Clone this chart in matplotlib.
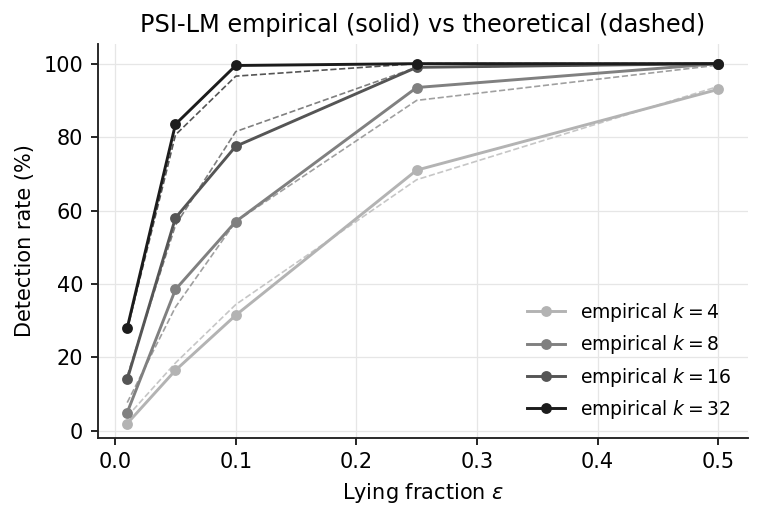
import numpy as np
import matplotlib
matplotlib.use('Agg')
import matplotlib.pyplot as plt

# lying fraction (x)
eps = [0.01, 0.05, 0.1, 0.25, 0.5]
ks = [4, 8, 16, 32]

# empirical detection rate (%)
emp_k4 = [2.0, 16.5, 31.5, 71.0, 93.0]
emp_k8 = [5.0, 38.5, 57.0, 93.5, 100.0]
emp_k16 = [14.0, 58.0, 77.5, 99.0, 100.0]
emp_k32 = [28.0, 83.5, 99.5, 100.0, 100.0]

# theoretical detection rate (%)
theo_k4 = [3.9, 18.5, 34.4, 68.4, 93.8]
theo_k8 = [7.7, 33.7, 57.0, 90.0, 99.6]
theo_k16 = [14.9, 56.0, 81.5, 99.0, 100.0]
theo_k32 = [27.5, 80.6, 96.6, 100.0, 100.0]

colors = ['#b3b3b3', '#808080', '#555555', '#1c1c1c']

emp = [emp_k4, emp_k8, emp_k16, emp_k32]
theo = [theo_k4, theo_k8, theo_k16, theo_k32]

fig, ax = plt.subplots(figsize=(763 / 150, 520 / 150), dpi=150)
fig.subplots_adjust(left=0.128, right=0.980, top=0.915, bottom=0.158)

for k, e, t, c in zip(ks, emp, theo, colors):
    ax.plot(eps, e, '-o', color=c, lw=1.4, ms=4.2, label=r'empirical $k=%d$' % k)
    ax.plot(eps, t, '--', color=c, lw=0.8, alpha=0.75)

ax.set_title('PSI-LM empirical (solid) vs theoretical (dashed)', fontsize=11.5)
ax.set_xlabel(r'Lying fraction $\varepsilon$', fontsize=10)
ax.set_ylabel('Detection rate (%)', fontsize=10)
ax.tick_params(labelsize=10)
ax.set_xticks([0.0, 0.1, 0.2, 0.3, 0.4, 0.5])
ax.set_xticklabels(['0.0', '0.1', '0.2', '0.3', '0.4', '0.5'])
ax.set_ylim(-1.9, 105.3)
ax.grid(True, color='#e6e6e6', lw=0.6)
ax.set_axisbelow(True)
for s in ['top', 'right']:
    ax.spines[s].set_visible(False)
for s in ['left', 'bottom']:
    ax.spines[s].set_linewidth(0.9)
    ax.spines[s].set_color('#222222')

ax.legend(loc='lower right', frameon=False, fontsize=9)

fig.savefig('out.png', dpi=150)
